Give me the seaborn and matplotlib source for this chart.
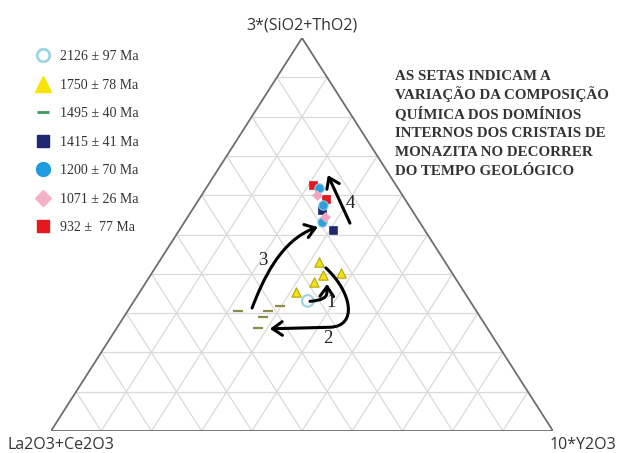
import numpy as np
import pandas as pd
import matplotlib
matplotlib.use("Agg")
import matplotlib.pyplot as plt
import seaborn as sns
from matplotlib.lines import Line2D
from matplotlib.path import Path
from matplotlib.patches import FancyArrowPatch

# Ternary compositions in %: La2O3+Ce2O3, 10*Y2O3, 3*(SiO2+ThO2)
lace_2126 = [32.3]
y_2126 = [34.6]
sith_2126 = [33.1]

lace_1750 = [25.1, 22.1, 25.9, 28.6, 33.4]
y_1750 = [32.0, 37.6, 34.4, 33.5, 31.2]
sith_1750 = [42.9, 40.3, 39.7, 37.9, 35.4]

lace_1495 = [47.4, 41.5, 38.5, 43.3, 45.7]
y_1495 = [22.0, 28.0, 29.7, 27.8, 28.2]
sith_1495 = [30.6, 30.5, 31.8, 28.9, 26.1]

lace_1415 = [18.0, 18.2]
y_1415 = [25.8, 30.7]
sith_1415 = [56.2, 51.1]

lace_1200 = [15.6, 17.1, 19.5]
y_1200 = [22.5, 25.4, 27.3]
sith_1200 = [61.9, 57.5, 53.2]

lace_1071 = [16.9, 18.2]
y_1071 = [23.0, 27.3]
sith_1071 = [60.1, 54.5]

lace_932 = [16.5, 15.7]
y_932 = [21.0, 25.3]
sith_932 = [62.5, 59.0]

age_labels = ["2126 ± 97 Ma", "1750 ± 78 Ma", "1495 ± 40 Ma", "1415 ± 41 Ma",
              "1200 ± 70 Ma", "1071 ± 26 Ma", "932 ±  77 Ma"]

# arrow paths (ternary control points) and number labels
arrow1 = [(31.9, 35.1, 33.0), (28.4, 38.3, 33.3), (27.5, 37.4, 35.1), (26.3, 36.3, 37.4)]
arrow2 = [(24.5, 34.0, 41.5), (22.4, 42.3, 35.3), (25.5, 47.8, 26.7), (31.2, 42.4, 26.4), (43.4, 30.6, 26.0)]
arrow3 = [(44.3, 24.4, 31.3), (39.0, 23.1, 37.9), (30.1, 21.3, 48.6), (20.9, 27.2, 51.9)]
arrow4 = [(14.0, 33.1, 52.9), (12.3, 22.6, 65.1)]
arrow_names = ["1", "2", "3", "4"]
arrow_label_pos = [(27.9, 39.5, 32.6), (33.0, 43.4, 23.6), (36.0, 20.5, 43.5), (11.4, 30.6, 58.0)]

note_lines = ["AS SETAS INDICAM A", "VARIAÇÃO DA COMPOSIÇÃO", "QUÍMICA DOS DOMÍNIOS",
              "INTERNOS DOS CRISTAIS DE", "MONAZITA NO DECORRER", "DO TEMPO GEOLÓGICO"]


def tern_xy(lace, y10, sith):
    lace, y10, sith = np.asarray(lace, float), np.asarray(y10, float), np.asarray(sith, float)
    tot = lace + y10 + sith
    b = y10 / tot
    c = sith / tot
    return b + c / 2, c


sns.set_style("white")
plt.rcParams['font.family'] = ['DejaVu Sans']

fig = plt.figure(figsize=(6.18, 4.53), dpi=100)
ax = fig.add_axes([51 / 618, 22 / 453, 502 / 618, 393 / 453])
ax.set_xlim(0, 1)
ax.set_ylim(0, 1)
ax.axis('off')

# grid every 10 %
for i in range(1, 10):
    f = i / 10
    for p, q in [((1 - f, 0, f), (0, 1 - f, f)),
                 ((f, 1 - f, 0), (f, 0, 1 - f)),
                 ((1 - f, f, 0), (0, f, 1 - f))]:
        xs, ys = tern_xy([p[0], q[0]], [p[1], q[1]], [p[2], q[2]])
        ax.plot(xs, ys, color='#d9d9d9', lw=0.9, zorder=1)

xs, ys = tern_xy([100, 0, 0, 100], [0, 100, 0, 0], [0, 0, 100, 0])
ax.plot(xs, ys, color='#6e6e6e', lw=1.3, zorder=2)

# data points
series = [
    (lace_1495, y_1495, sith_1495, dict(marker='_', color='#8c8c46', s=45, linewidth=1.6)),
    (lace_2126, y_2126, sith_2126, dict(marker='o', facecolor='none', edgecolor='#9ed3e6', s=70, linewidth=1.6)),
    (lace_1750, y_1750, sith_1750, dict(marker='^', color='#f2e21a', edgecolor='#b8a800', s=45, linewidth=0.8)),
    (lace_1415, y_1415, sith_1415, dict(marker='s', color='#1d2870', edgecolor='#1d2870', s=32)),
    (lace_932, y_932, sith_932, dict(marker='s', color='#e5181e', edgecolor='#e5181e', s=40)),
    (lace_1200, y_1200, sith_1200, dict(marker='o', color='#2f9fd9', edgecolor='#8fcbe8', s=45, linewidth=0.8)),
    (lace_1071, y_1071, sith_1071, dict(marker='D', color='#f0a6c2', edgecolor='#f0a6c2', s=26)),
]
for la, yy, si, kw in series:
    px, py = tern_xy(la, yy, si)
    sns.scatterplot(x=px, y=py, ax=ax, legend=False, zorder=4, **kw)

# arrows
arrow_defs = [
    (arrow1, [Path.MOVETO, Path.CURVE3, Path.CURVE3, Path.LINETO]),
    (arrow2, [Path.MOVETO, Path.CURVE4, Path.CURVE4, Path.CURVE4, Path.LINETO]),
    (arrow3, [Path.MOVETO, Path.CURVE4, Path.CURVE4, Path.CURVE4]),
    (arrow4, [Path.MOVETO, Path.LINETO]),
]
for pts, codes in arrow_defs:
    la, yy, si = zip(*pts)
    px, py = tern_xy(la, yy, si)
    path = Path(np.column_stack([px, py]), codes)
    arr = FancyArrowPatch(path=path, arrowstyle='->,head_length=0.5,head_width=0.35',
                          mutation_scale=14, lw=2.2, color='black', zorder=5)
    ax.add_patch(arr)

for name, pos in zip(arrow_names, arrow_label_pos):
    px, py = tern_xy([pos[0]], [pos[1]], [pos[2]])
    ax.text(px[0], py[0], name, fontsize=13.5, family='Liberation Serif', color='#222222',
            ha='center', va='center', zorder=6)

# corner labels
ax.text(0.5, 1.033, "3*(SiO2+ThO2)", ha='center', va='center', fontsize=11.5,
        family='Open Sans', color='#333333', clip_on=False)
ax.text(-0.087, -0.036, "La2O3+Ce2O3", ha='left', va='center', fontsize=11.5,
        family='Open Sans', color='#333333', clip_on=False)
ax.text(1.126, -0.036, "10*Y2O3", ha='right', va='center', fontsize=11.5,
        family='Open Sans', color='#333333', clip_on=False)

# note, one line at a time for even spacing
for i, line in enumerate(note_lines):
    fig.text(395 / 618, 1 - (80 + 19 * i) / 453, line, ha='left', va='baseline',
             fontsize=10.8, family='Liberation Serif', weight='bold', color='#333333')

# legend
handles = [
    Line2D([], [], marker='o', ls='none', mfc='white', mec='#9ed3e6', ms=9, mew=2),
    Line2D([], [], marker='^', ls='none', mfc='#f7e400', mec='#f7e400', ms=11),
    Line2D([], [], marker='_', ls='none', color='#3d9a5c', ms=9, mew=2),
    Line2D([], [], marker='s', ls='none', mfc='#1d2870', mec='#1d2870', ms=8),
    Line2D([], [], marker='o', ls='none', mfc='#1f9be0', mec='#1f9be0', ms=10),
    Line2D([], [], marker='D', ls='none', mfc='#f4b0c8', mec='#f4b0c8', ms=8),
    Line2D([], [], marker='s', ls='none', mfc='#e5181e', mec='#e5181e', ms=8),
]
fig.legend(handles, age_labels, loc='upper left', bbox_to_anchor=(35 / 618, 1 - 50 / 453),
           frameon=False, prop={'family': 'Liberation Serif', 'size': 10},
           labelspacing=1.12, handlelength=1.2, handletextpad=0.6, borderpad=0,
           borderaxespad=0, labelcolor='#333333')

fig.savefig("out.png", dpi=100)
